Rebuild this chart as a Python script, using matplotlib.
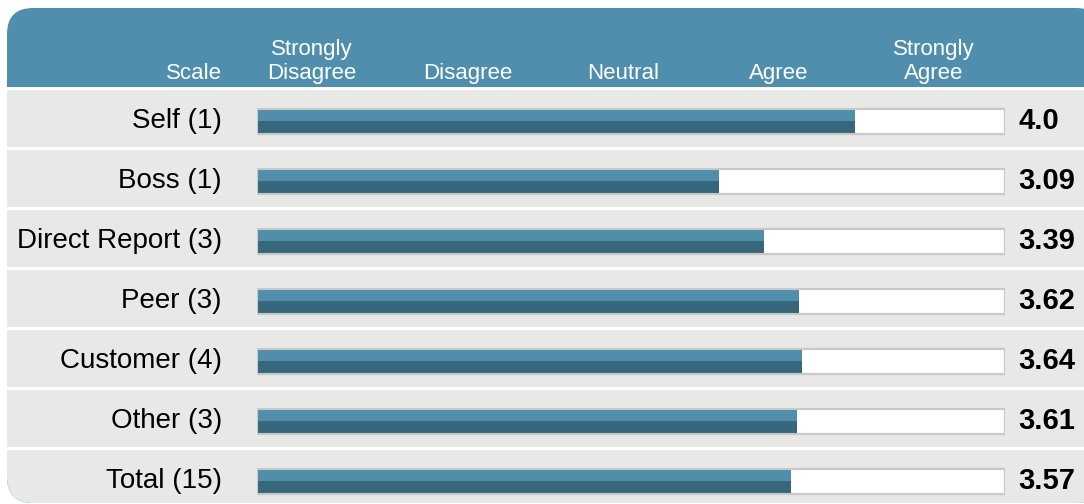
import matplotlib.pyplot as plt
from matplotlib.patches import FancyBboxPatch, Rectangle
import numpy as np

plt.rcParams['font.family'] = ['Liberation Sans', 'DejaVu Sans']

# 数据
groups = ['Self (1)', 'Boss (1)', 'Direct Report (3)', 'Peer (3)',
          'Customer (4)', 'Other (3)', 'Total (15)']
scores = [4.0, 3.09, 3.39, 3.62, 3.64, 3.61, 3.57]
score_labels = ['4.0', '3.09', '3.39', '3.62', '3.64', '3.61', '3.57']
scale_labels = ['Strongly\nDisagree', 'Disagree', 'Neutral', 'Agree', 'Strongly\nAgree']
scale_max = 5

# 颜色
header_c = '#4f8fad'
light_c = '#4f8fab'
dark_c = '#37677a'
row_c = '#e8e8e6'
edge_c = '#c8c8c8'

W, H = 1084, 504
fig = plt.figure(figsize=(W / 100, H / 100), dpi=100)

# 背景层（像素坐标）
bg = fig.add_axes([0, 0, 1, 1])
bg.set_xlim(0, W)
bg.set_ylim(H, 0)
bg.axis('off')

panel = FancyBboxPatch((7, 8), 1095, 495, boxstyle='round,pad=0,rounding_size=26',
                       fc=header_c, ec='none')
bg.add_patch(panel)
clip = FancyBboxPatch((7, 8), 1095, 495, boxstyle='round,pad=0,rounding_size=26',
                      fc='none', ec='none')
bg.add_patch(clip)
# 表头下白线
r = Rectangle((0, 87), W, 2.5, fc='white', ec='none')
bg.add_patch(r)
r.set_clip_path(clip)
for i in range(len(groups)):
    top = 89.5 + 60 * i
    band = Rectangle((0, top), W, 57.5, fc=row_c, ec='none')
    bg.add_patch(band)
    band.set_clip_path(clip)
    if i < len(groups) - 1:
        sep = Rectangle((0, top + 57.5), W, 2.5, fc='white', ec='none')
        bg.add_patch(sep)
        sep.set_clip_path(clip)

# 表头文字
bg.text(222, 79, 'Scale', ha='right', va='baseline', color='white', fontsize=16)
for lab, xc in zip(scale_labels, [312, 468, 623, 779, 934]):
    bg.text(xc, 79, lab, ha='center', va='baseline', color='white', fontsize=16,
            linespacing=1.2, multialignment='center')

# 数据层
ax = fig.add_axes([257 / W, (H - 511) / H, 748 / W, 420 / H])
ax.set_xlim(0, scale_max)
ax.set_ylim(len(groups) - 0.5, -0.5)
ax.axis('off')

y = np.arange(len(groups))
h = 25 / 60
ax.barh(y, [scale_max] * len(groups), height=h, color='white', edgecolor=edge_c,
        linewidth=1.5, zorder=1)
ax.barh(y, scores, height=h, color=dark_c, edgecolor='none', zorder=2)
ax.barh(y - h / 4, scores, height=h / 2, color=light_c, edgecolor='none', zorder=3)
ax.barh(y, [scale_max] * len(groups), height=h, color='none', edgecolor=edge_c,
        linewidth=1.5, zorder=4)

for yi, g, s in zip(y, groups, score_labels):
    ax.text(-0.235, yi, g, ha='right', va='center', fontsize=20, color='black')
    ax.text(5.087, yi, s, ha='left', va='center', fontsize=21, fontweight='bold',
            color='black')

fig.savefig('out.png', dpi=100)
